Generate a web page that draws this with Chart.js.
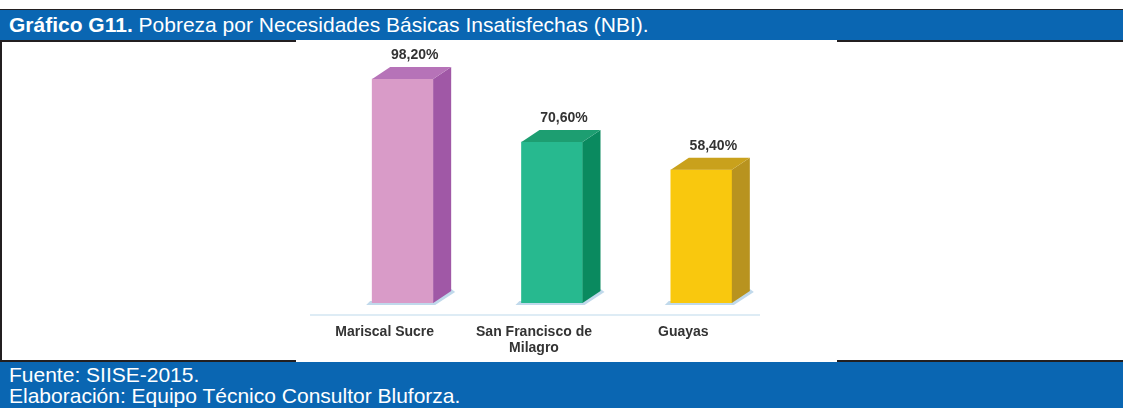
<!DOCTYPE html>
<html>
<head>
<meta charset="utf-8">
<script src="https://cdn.jsdelivr.net/npm/chart.js@4.4.0/dist/chart.umd.min.js"></script>
<style>
  body { margin: 0; width: 1123px; height: 408px; background: #fff; position: relative; overflow: hidden; font-family: "Liberation Sans", Arial, sans-serif; }
  .line { position: absolute; background: #231f20; }
  #head { position: absolute; left: 0; top: 10px; width: 1123px; height: 30px; background: #0a66b2; color: #fff; font-size: 21px; line-height: 30px; padding-left: 9px; box-sizing: border-box; white-space: nowrap; }
  #foot { position: absolute; left: 0; top: 362px; width: 1123px; height: 46px; background: #0a66b2; color: #fff; font-size: 21px; line-height: 21px; padding: 2px 0 0 9px; box-sizing: border-box; white-space: nowrap; }
  #box { position: absolute; left: 296px; top: 41px; width: 541px; height: 321px; background: #fff; }
  #chart { filter: blur(0.5px); }
</style>
</head>
<body>
<div class="line" style="left:0;top:9px;width:1123px;height:1px"></div>
<div id="head"><b>Gráfico G11.</b> Pobreza por Necesidades Básicas Insatisfechas (NBI).</div>
<div class="line" style="left:0;top:40px;width:296px;height:2px"></div>
<div class="line" style="left:837px;top:40px;width:286px;height:2px"></div>
<div class="line" style="left:0;top:40px;width:2px;height:321px"></div>
<div class="line" style="left:0;top:360px;width:296px;height:2px"></div>
<div class="line" style="left:837px;top:360px;width:286px;height:2px"></div>
<div id="box"><canvas id="chart" width="541" height="321"></canvas></div>
<div id="foot">Fuente: SIISE-2015.<br>Elaboración: Equipo Técnico Consultor Bluforza.</div>

<script>
// NBI por territorio (%)
const territorios = ["Mariscal Sucre", ["San Francisco de", "Milagro"], "Guayas"];
const pobrezaNBI = [98.2, 70.6, 58.4];

const colorFrente = ["#d99bc8", "#27b98f", "#f9c80e"];
const colorLado = ["#a058a6", "#0a8a5f", "#b8931f"];
const colorTapa = ["#b673b8", "#1d9e71", "#c9a11c"];

const DX = 18, DY = 12;

// caras laterales y superiores para el efecto 3D + etiquetas de valor
const barras3d = {
    id: "barras3d",
    beforeDatasetsDraw(chart) {
        const ctx = chart.ctx;
        const area = chart.chartArea;
        ctx.save();
        ctx.strokeStyle = "#d3e6f2";
        ctx.lineWidth = 1.5;
        ctx.beginPath();
        ctx.moveTo(area.left - 18, area.bottom + DY);
        ctx.lineTo(area.right - 16, area.bottom + DY);
        ctx.stroke();

        // sombra en la base de cada barra
        chart.getDatasetMeta(0).data.forEach(function (bar) {
            const l = bar.x - bar.width / 2;
            const r = bar.x + bar.width / 2;
            const b = bar.base;
            ctx.fillStyle = "rgba(130,180,215,0.5)";
            ctx.beginPath();
            ctx.moveTo(l - 6, b + 2);
            ctx.lineTo(r + 2, b + 2);
            ctx.lineTo(r + DX + 4, b - DY + 1);
            ctx.lineTo(r + DX, b - DY - 2);
            ctx.lineTo(r, b - 2);
            ctx.lineTo(l - 2, b - 2);
            ctx.closePath();
            ctx.fill();
        });
        ctx.restore();
    },
    afterDatasetsDraw(chart) {
        const ctx = chart.ctx;
        const meta = chart.getDatasetMeta(0);
        ctx.save();
        meta.data.forEach(function (bar, i) {
            const l = bar.x - bar.width / 2;
            const r = bar.x + bar.width / 2;
            const t = bar.y;
            const b = bar.base;

            ctx.fillStyle = colorLado[i];
            ctx.beginPath();
            ctx.moveTo(r, t);
            ctx.lineTo(r + DX, t - DY);
            ctx.lineTo(r + DX, b - DY);
            ctx.lineTo(r, b);
            ctx.closePath();
            ctx.fill();

            ctx.fillStyle = colorTapa[i];
            ctx.beginPath();
            ctx.moveTo(l, t);
            ctx.lineTo(l + DX, t - DY);
            ctx.lineTo(r + DX, t - DY);
            ctx.lineTo(r, t);
            ctx.closePath();
            ctx.fill();

            const v = chart.data.datasets[0].data[i];
            ctx.fillStyle = "#333";
            ctx.font = "bold 14px 'Liberation Sans', Arial, sans-serif";
            ctx.textAlign = "center";
            ctx.textBaseline = "middle";
            ctx.fillText(v.toFixed(2).replace(".", ",") + "%", bar.x + DX / 2 + 3, t - DY - 12);
        });
        ctx.restore();
    }
};

new Chart(document.getElementById("chart"), {
    type: "bar",
    data: {
        labels: territorios,
        datasets: [{
            data: pobrezaNBI,
            backgroundColor: colorFrente,
            borderWidth: 0,
            barThickness: 61
        }]
    },
    options: {
        responsive: false,
        animation: false,
        events: [],
        layout: { padding: { left: 32, right: 61, top: 34, bottom: 0 } },
        plugins: { legend: { display: false }, tooltip: { enabled: false } },
        scales: {
            x: {
                grid: { display: false, drawTicks: false },
                border: { display: false },
                ticks: {
                    color: "#333",
                    padding: 21,
                    labelOffset: -18,
                    maxRotation: 0,
                    autoSkip: false,
                    font: { family: "'Liberation Sans', Arial, sans-serif", size: 14, weight: "bold", lineHeight: 1.15 }
                },
                afterFit: function (scale) { scale.height = 59; }
            },
            y: {
                display: false,
                min: 0,
                max: 100
            }
        }
    },
    plugins: [barras3d]
});
</script>
</body>
</html>
